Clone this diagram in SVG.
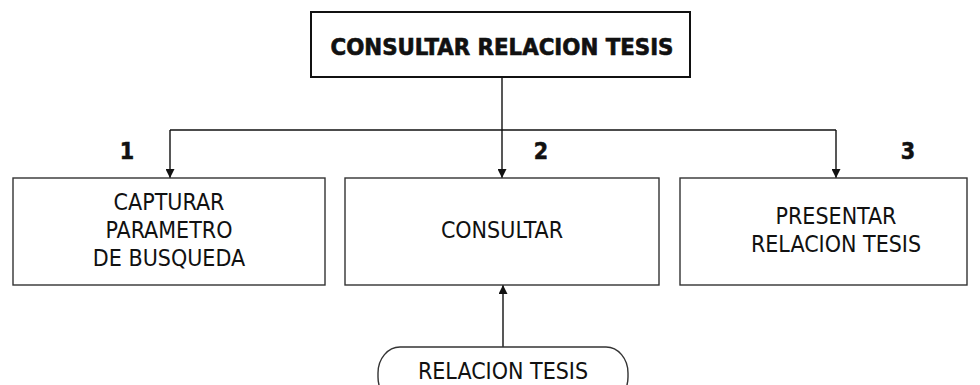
<svg xmlns="http://www.w3.org/2000/svg" width="980" height="385" viewBox="0 0 980 385">
<style>
.box{fill:#fff;stroke:#333;stroke-width:1.4}
.t{font-family:"DejaVu Sans Condensed","DejaVu Sans",sans-serif;font-stretch:condensed;font-size:23px;fill:#111;text-anchor:middle}
.b{font-weight:bold}
.c{fill:none;stroke:#111;stroke-width:1.4}
</style>
<defs>
<marker id="ah" viewBox="0 0 10 10" refX="10" refY="5" markerWidth="9" markerHeight="9" markerUnits="userSpaceOnUse" orient="auto">
<path d="M0,0 L10,5 L0,10 z" fill="#111"/>
</marker>
</defs>
<g id="connectors">
<path class="c" d="M502,78 V130"/>
<path class="c" d="M170,130 H836"/>
<path class="c" d="M170,130 V178" marker-end="url(#ah)"/>
<path class="c" d="M502,130 V178" marker-end="url(#ah)"/>
<path class="c" d="M836,130 V178" marker-end="url(#ah)"/>
<path class="c" d="M503,347 V285" marker-end="url(#ah)"/>
</g>
<g id="root">
<rect x="311" y="12" width="379" height="65" fill="#fff" stroke="#111" stroke-width="2"/>
<text class="t b" x="502" y="55" font-size="24" stroke="#111" stroke-width="0.6" textLength="343" lengthAdjust="spacingAndGlyphs">CONSULTAR RELACION TESIS</text>
</g>
<g id="n1">
<rect class="box" x="13" y="178" width="312" height="107"/>
<text class="t" x="169" y="210">CAPTURAR</text>
<text class="t" x="169" y="238">PARAMETRO</text>
<text class="t" x="169" y="266">DE BUSQUEDA</text>
<text class="t b" x="127" y="159" font-size="19" stroke="#111" stroke-width="0.5">1</text>
</g>
<g id="n2">
<rect class="box" x="345" y="178" width="314" height="107"/>
<text class="t" x="502" y="238">CONSULTAR</text>
<text class="t b" x="541" y="159" font-size="19" stroke="#111" stroke-width="0.5">2</text>
</g>
<g id="n3">
<rect class="box" x="680" y="178" width="287" height="107"/>
<text class="t" x="836" y="224">PRESENTAR</text>
<text class="t" x="836" y="252">RELACION TESIS</text>
<text class="t b" x="908" y="159" font-size="19" stroke="#111" stroke-width="0.5">3</text>
</g>
<g id="n4">
<rect class="box" x="378" y="347" width="250" height="56" rx="22" ry="26"/>
<text class="t" x="503" y="379">RELACION TESIS</text>
</g>
</svg>
